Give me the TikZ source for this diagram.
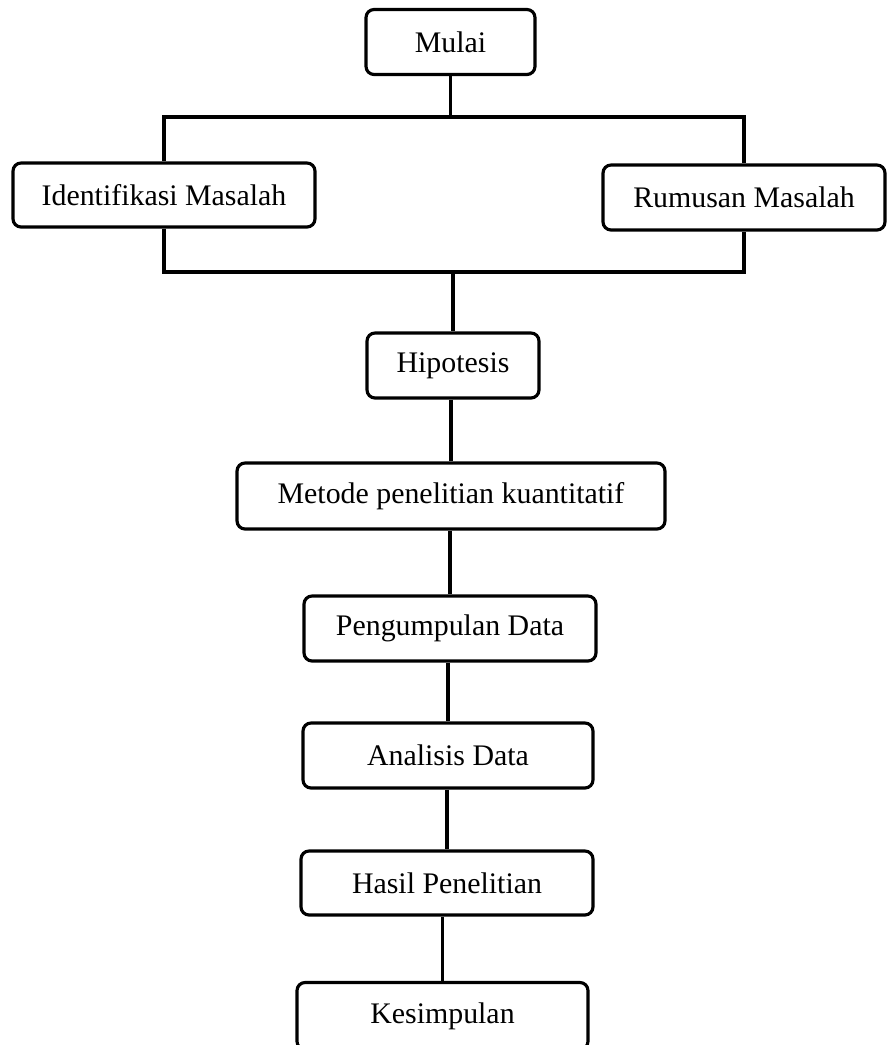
\documentclass[tikz,border=0pt]{standalone}
\usepackage{fontspec}
\setmainfont{Liberation Serif}
\usepackage{tikz}
\usetikzlibrary{positioning, calc}

\begin{document}
\begin{tikzpicture}[x=0.02cm, y=-0.02cm, line width=1.8pt,
    every node/.style={font=\fontsize{17}{20}\selectfont},
    flowbox/.style={draw, rounded corners=0.16cm, fill=white, inner sep=0pt,
      minimum height=1.3cm}]
  \clip (0,0) rectangle (887,1045);
  % start
  \node[flowbox, minimum width=3.38cm] (mulai) at (450.5,42) {Mulai};

  % problem boxes
  \node[flowbox, minimum width=6.04cm, minimum height=1.28cm] (ident) at (164,195)
        {Identifikasi Masalah};
  \node[flowbox, minimum width=5.64cm] (rumus) at (744,197.5) {Rumusan Masalah};
  \coordinate (top) at (450,117);
  \coordinate (bot) at (450,272);

  % method chain
  \node[flowbox, minimum width=3.44cm] (hipo) at (453,365.5) {Hipotesis};
  \node[flowbox, minimum width=8.56cm, minimum height=1.32cm] (metode) at (451,496)
        {Metode penelitian kuantitatif};
  \node[flowbox, minimum width=5.84cm] (kumpul) at (450,628.5) {Pengumpulan Data};
  \node[flowbox, minimum width=5.8cm] (analisis) at (448,755.5) {Analisis Data};
  \node[flowbox, minimum width=5.84cm, minimum height=1.28cm] (hasil) at (447,883)
        {Hasil Penelitian};
  \node[flowbox, minimum width=5.82cm, minimum height=1.34cm] (simpul) at (442.5,1016)
        {Kesimpulan};

  % bracket
  \draw (mulai.south) -- (mulai.south |- top);
  \draw (ident.north) |- (rumus.north |- top) -- (rumus.north);
  \draw (ident.south) |- (rumus.south |- bot) -- (rumus.south);
  \draw (hipo.north |- bot) -- (hipo.north);

  % chain
  \draw (hipo.south -| metode.north) -- (metode.north);
  \draw (metode.south -| kumpul.north) -- (kumpul.north);
  \draw (kumpul.south -| analisis.north) -- (analisis.north);
  \draw (analisis.south -| hasil.north) -- (hasil.north);
  \draw (hasil.south -| simpul.north) -- (simpul.north);
\end{tikzpicture}
\end{document}
